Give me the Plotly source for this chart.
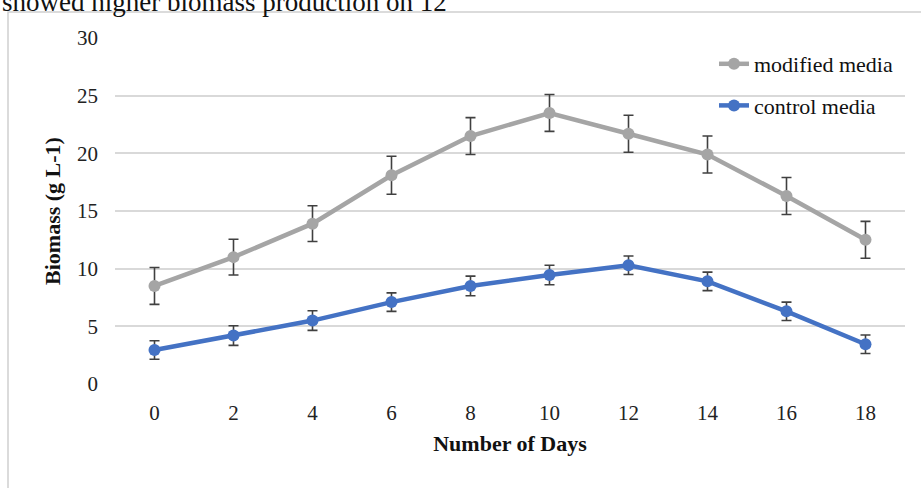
import plotly.graph_objects as go

days = [0, 2, 4, 6, 8, 10, 12, 14, 16, 18]
modified = [8.5, 11.0, 13.9, 18.1, 21.5, 23.5, 21.7, 19.9, 16.3, 12.5]
modified_err = [1.6, 1.55, 1.55, 1.65, 1.6, 1.6, 1.6, 1.6, 1.6, 1.6]
control = [2.95, 4.2, 5.5, 7.1, 8.5, 9.45, 10.3, 8.9, 6.3, 3.45]
control_err = [0.8, 0.85, 0.85, 0.8, 0.85, 0.85, 0.8, 0.8, 0.8, 0.8]
y_ticks = [0, 5, 10, 15, 20, 25, 30]

SERIF = "Liberation Serif"
W, H = 921, 488
ML, MR, MT, MB = 115, 16, 38, 104
PW, PH = W - ML - MR, H - MT - MB

def px_x(p):
    return (p - ML) / PW

def px_y(p):
    return (H - MB - p) / PH

fig = go.Figure()
fig.add_trace(go.Scatter(
    x=days, y=modified, name="modified media", mode="lines+markers",
    line=dict(color="#a5a5a5", width=4.5),
    marker=dict(color="#a5a5a5", size=12),
    error_y=dict(type="data", array=modified_err, visible=True,
                 color="#404040", thickness=1.6, width=5),
    legendgroup="a",
))
fig.add_trace(go.Scatter(
    x=days, y=control, name="control media", mode="lines+markers",
    line=dict(color="#4472c4", width=4.5),
    marker=dict(color="#4472c4", size=12),
    error_y=dict(type="data", array=control_err, visible=True,
                 color="#404040", thickness=1.6, width=5),
    legendgroup="b",
))

fig.update_layout(
    width=W, height=H,
    margin=dict(l=ML, r=MR, t=MT, b=MB, pad=0),
    paper_bgcolor="white", plot_bgcolor="white",
    font=dict(family=SERIF, color="#222222", size=21),
    showlegend=True,
    legend=dict(
        x=px_x(714), y=px_y(43), xanchor="left", yanchor="top",
        font=dict(family=SERIF, size=22, color="#111111"),
        bgcolor="rgba(0,0,0,0)", borderwidth=0,
        traceorder="grouped", tracegroupgap=10,
    ),
    xaxis=dict(
        range=[-1, 19], tickmode="array", tickvals=days,
        ticktext=[str(d) for d in days],
        showgrid=False, zeroline=False, showline=False,
        ticks="", tickfont=dict(family=SERIF, size=21, color="#222222"),
        ticklabelstandoff=14,
        title=dict(text="<b>Number of Days</b>", standoff=11,
                   font=dict(family=SERIF, size=22, color="#111111")),
    ),
    yaxis=dict(
        range=[0, 30], tickmode="array", tickvals=y_ticks,
        showgrid=True, gridcolor="#d9d9d9", gridwidth=1.5,
        zeroline=False, showline=False, ticks="",
        tickfont=dict(family=SERIF, size=21, color="#222222"),
        ticklabelstandoff=16,
        title=dict(text="<b>Biomass (g L-1)</b>", standoff=10,
                   font=dict(family=SERIF, size=22, color="#111111")),
    ),
    shapes=[dict(
        type="rect", xref="paper", yref="paper",
        x0=px_x(8), x1=px_x(930), y0=px_y(500), y1=px_y(12),
        line=dict(color="#cfcfcf", width=1.5), fillcolor="rgba(0,0,0,0)",
        layer="below",
    )],
    annotations=[dict(
        text="showed higher biomass production on 12",
        xref="paper", yref="paper", x=px_x(0), y=px_y(2),
        xanchor="left", yanchor="middle", showarrow=False,
        font=dict(family=SERIF, size=27, color="#111111"),
    )],
)

fig.write_html("out.html")
